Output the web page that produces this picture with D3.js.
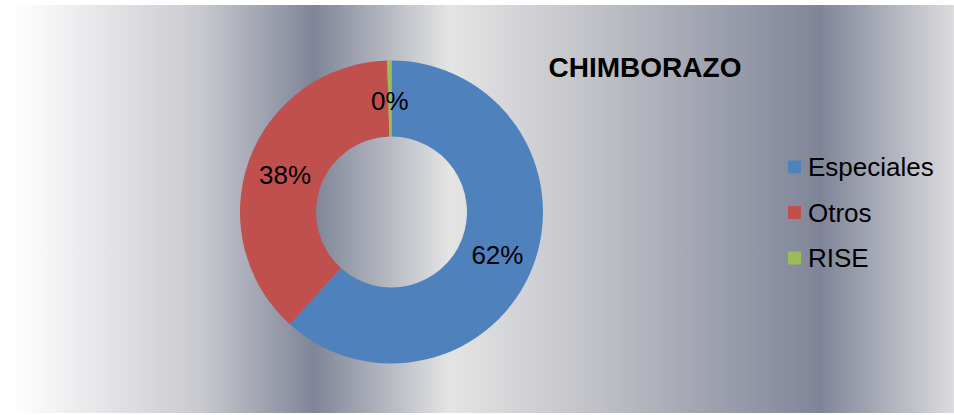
<!DOCTYPE html>
<html>
<head>
<meta charset="utf-8">
<script src="https://cdn.jsdelivr.net/npm/d3@7"></script>
<style>
	body { margin: 0; background: #fff; }
	svg { display: block; font-family: Arial, "Liberation Sans", sans-serif; }
</style>
</head>
<body>
<svg width="954" height="415"></svg>
<script>
var categories = ["Especiales", "Otros", "RISE"];
var values = [61.7, 37.85, 0.45];
var colors = ["#4f81bd", "#c0504d", "#9bbb59"];
var title = "CHIMBORAZO";

var width = 954, height = 415;
var svg = d3.select("svg");

// banded grey background
var grad = svg.append("defs").append("linearGradient")
	.attr("id", "bg").attr("x1", 0).attr("x2", 1).attr("y1", 0).attr("y2", 0);
[[0, "#ffffff"], [0.2, "#c9cacf"], [0.321, "#7f8598"], [0.465, "#e4e4e4"],
 [0.613, "#c2c3c9"], [0.858, "#7f8598"], [1, "#dcdcde"]].forEach(function(s){
	grad.append("stop").attr("offset", s[0]).attr("stop-color", s[1]);
});
svg.append("rect").attr("x", 12).attr("y", 5).attr("width", width - 12).attr("height", 408)
	.style("fill", "url(#bg)");

var cx = 391.5, cy = 212, outer = 151.5, inner = 75.5;
var data = categories.map(function(c, i){ return {name: c, value: values[i], color: colors[i]}; });
var total = d3.sum(values);

var pie = d3.pie().sort(null).value(function(d){ return d.value; });
var arc = d3.arc().innerRadius(inner).outerRadius(outer);

var g = svg.append("g").attr("transform", "translate(" + cx + "," + cy + ")");
var arcs = pie(data);

g.selectAll("path").data(arcs).enter()
	.append("path")
	.attr("d", arc)
	.style("fill", function(d){ return d.data.color; });

g.selectAll("text").data(arcs).enter()
	.append("text")
	.attr("transform", function(d){ return "translate(" + arc.centroid(d) + ")"; })
	.attr("text-anchor", "middle")
	.attr("dy", "0.44em")
	.style("font-size", "26px")
	.style("fill", "#000")
	.text(function(d){ return Math.round(d.data.value / total * 100) + "%"; });

svg.append("text")
	.attr("x", 645).attr("y", 77)
	.attr("text-anchor", "middle")
	.style("font-size", "28px").style("font-weight", "bold")
	.text(title);

var legend = svg.selectAll(".legend").data(data).enter()
	.append("g").attr("class", "legend")
	.attr("transform", function(d, i){ return "translate(788," + (167 + i * 45.5) + ")"; });
legend.append("rect")
	.attr("x", 0).attr("y", -6.5).attr("width", 13).attr("height", 13)
	.style("fill", function(d){ return d.color; });
legend.append("text")
	.attr("x", 20).attr("y", 9)
	.style("font-size", "26px")
	.text(function(d){ return d.name; });
</script>
</body>
</html>
